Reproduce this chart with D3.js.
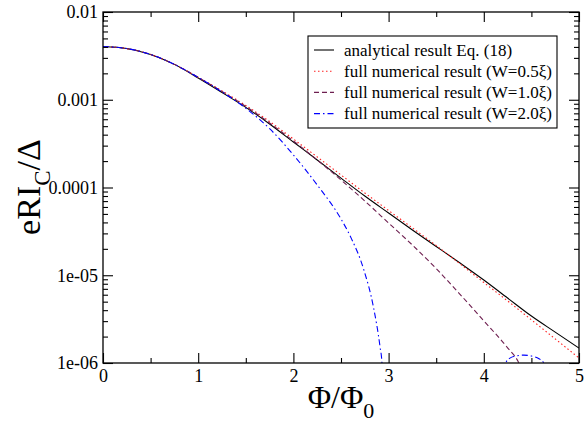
<!DOCTYPE html>
<html>
<head>
<meta charset="utf-8">
<script src="https://cdn.jsdelivr.net/npm/d3@7/dist/d3.min.js"></script>
<style>
  body { margin: 0; background: #fff; }
  text { font-family: "Liberation Serif", "Times New Roman", serif; fill: #000; }
</style>
</head>
<body>
<svg id="chart" width="586" height="424"></svg>
<script>
// Axis ticks
const phiTicks = [0, 1, 2, 3, 4, 5];
const phiMinorTicks = [0.5, 1.5, 2.5, 3.5, 4.5];
const currentTicks = [1e-2, 1e-3, 1e-4, 1e-5, 1e-6];
const currentTickLabels = ["0.01", "0.001", "0.0001", "1e-05", "1e-06"];

// Flux grid shared by the analytical curve and W = 0.5ξ
const phiGrid = [0, 0.25, 0.5, 0.75, 1, 1.25, 1.5, 1.75, 2, 2.25, 2.5,
                 2.75, 3, 3.25, 3.5, 3.75, 4, 4.25, 4.5, 4.75, 5];

// Analytical result, Eq. (18)
const analytical = [4.04e-3, 3.83e-3, 3.28e-3, 2.53e-3, 1.77e-3, 1.21e-3, 8.18e-4,
                    5.30e-4, 3.30e-4, 2.06e-4, 1.28e-4, 8.0e-5, 5.12e-5, 3.28e-5,
                    2.13e-5, 1.38e-5, 8.83e-6, 5.5e-6, 3.43e-6, 2.25e-6, 1.48e-6];

// Full numerical result, W = 0.5ξ
const numW05 = [4.04e-3, 3.83e-3, 3.28e-3, 2.53e-3, 1.80e-3, 1.26e-3, 8.60e-4,
                5.65e-4, 3.57e-4, 2.23e-4, 1.39e-4, 8.66e-5, 5.47e-5, 3.46e-5,
                2.18e-5, 1.35e-5, 8.27e-6, 5.10e-6, 3.10e-6, 1.88e-6, 1.14e-6];

// Full numerical result, W = 1.0ξ
const phiW10 = [0, 0.25, 0.5, 0.75, 1, 1.25, 1.5, 1.75, 2, 2.25, 2.5,
                2.75, 3, 3.25, 3.5, 3.75, 4, 4.25, 4.367, 4.45];
const numW10 = [4.04e-3, 3.83e-3, 3.28e-3, 2.53e-3, 1.80e-3, 1.24e-3, 8.40e-4,
                5.43e-4, 3.39e-4, 2.06e-4, 1.22e-4, 7.02e-5, 3.94e-5, 2.21e-5,
                1.19e-5, 6.07e-6, 3.02e-6, 1.49e-6, 1.01e-6, 6.0e-7];

// Full numerical result, W = 2.0ξ (|I_C| changes sign near Φ ≈ 2.93 Φ0)
const phiW20 = [0, 0.25, 0.5, 0.75, 1, 1.25, 1.5, 1.75, 2, 2.25, 2.5,
                2.6, 2.74, 2.84, 2.91, 2.93, 2.95];
const numW20 = [4.04e-3, 3.83e-3, 3.28e-3, 2.53e-3, 1.80e-3, 1.23e-3, 8.0e-4,
                4.68e-4, 2.35e-4, 1.07e-4, 4.38e-5,
                2.75e-5, 1.15e-5, 4.38e-6, 1.53e-6, 1.01e-6, 3.0e-7];
const phiW20Lobe = [4.20, 4.23, 4.27, 4.35, 4.42, 4.50, 4.58, 4.63, 4.66];
const numW20Lobe = [4.0e-7, 1.0e-6, 1.13e-6, 1.21e-6, 1.23e-6, 1.20e-6, 1.12e-6, 1.0e-6, 5.0e-7];

const legendLabels = [
  "analytical result Eq. (18)",
  "full numerical result (W=0.5\u03be)",
  "full numerical result (W=1.0\u03be)",
  "full numerical result (W=2.0\u03be)"
];

const styles = [
  { color: "#000000", dash: null, width: 1.1 },
  { color: "#ff2020", dash: "1.5,2.5", width: 1.1 },
  { color: "#6e1f50", dash: "5,3", width: 1.1 },
  { color: "#0000ff", dash: "6,3,1.5,3", width: 1.1 }
];

const svg = d3.select("#chart");
const plotLeft = 103, plotRight = 579, plotTop = 12, plotBottom = 363;

const x = d3.scaleLinear().domain([0, 5]).range([plotLeft, plotRight]);
const y = d3.scaleLog().domain([1e-6, 1e-2]).range([plotBottom, plotTop]);

svg.append("defs").append("clipPath").attr("id", "plotClip")
  .append("rect").attr("x", plotLeft).attr("y", plotTop)
  .attr("width", plotRight - plotLeft).attr("height", plotBottom - plotTop);

const line = d3.line()
  .x(d => x(d[0]))
  .y(d => y(d[1]))
  .curve(d3.curveMonotoneX);

const zip = (a, b) => a.map((v, i) => [v, b[i]]);
const seriesData = [
  [zip(phiGrid, analytical)],
  [zip(phiGrid, numW05)],
  [zip(phiW10, numW10)],
  [zip(phiW20, numW20), zip(phiW20Lobe, numW20Lobe)]
];

const curves = svg.append("g").attr("clip-path", "url(#plotClip)");
seriesData.forEach((segs, i) => {
  segs.forEach(seg => {
    curves.append("path")
      .datum(seg)
      .attr("d", line)
      .attr("fill", "none")
      .attr("stroke", styles[i].color)
      .attr("stroke-width", styles[i].width)
      .attr("stroke-dasharray", styles[i].dash);
  });
});

// Frame
svg.append("rect")
  .attr("x", plotLeft).attr("y", plotTop)
  .attr("width", plotRight - plotLeft).attr("height", plotBottom - plotTop)
  .attr("fill", "none").attr("stroke", "#000").attr("stroke-width", 1.3);

const major = 10, minor = 5;

// x axis (bottom, ticks inward) and mirrored top
const xBottom = svg.append("g").attr("transform", `translate(0,${plotBottom})`)
  .call(d3.axisBottom(x).tickValues(phiTicks).tickSize(-major).tickFormat(d3.format("d")));
const xBottomMinor = svg.append("g").attr("transform", `translate(0,${plotBottom})`)
  .call(d3.axisBottom(x).tickValues(phiMinorTicks).tickSize(-minor).tickFormat(""));
const xTop = svg.append("g").attr("transform", `translate(0,${plotTop})`)
  .call(d3.axisTop(x).tickValues(phiTicks).tickSize(-major).tickFormat(""));
const xTopMinor = svg.append("g").attr("transform", `translate(0,${plotTop})`)
  .call(d3.axisTop(x).tickValues(phiMinorTicks).tickSize(-minor).tickFormat(""));

// y axis (left, ticks inward) and mirrored right
const yMinorTicks = [];
for (let e = -6; e < -2; e++) {
  for (let m = 2; m <= 9; m++) yMinorTicks.push(m * Math.pow(10, e));
}
const yLeft = svg.append("g").attr("transform", `translate(${plotLeft},0)`)
  .call(d3.axisLeft(y).tickValues(currentTicks).tickSize(-major)
    .tickFormat((d, i) => currentTickLabels[i]));
const yLeftMinor = svg.append("g").attr("transform", `translate(${plotLeft},0)`)
  .call(d3.axisLeft(y).tickValues(yMinorTicks).tickSize(-minor).tickFormat(""));
const yRight = svg.append("g").attr("transform", `translate(${plotRight},0)`)
  .call(d3.axisRight(y).tickValues(currentTicks).tickSize(-major).tickFormat(""));
const yRightMinor = svg.append("g").attr("transform", `translate(${plotRight},0)`)
  .call(d3.axisRight(y).tickValues(yMinorTicks).tickSize(-minor).tickFormat(""));

[xBottom, xBottomMinor, xTop, xTopMinor, yLeft, yLeftMinor, yRight, yRightMinor].forEach(g => {
  g.select(".domain").remove();
  g.selectAll(".tick line").attr("stroke", "#000").attr("stroke-width", 1.1);
  g.selectAll("text")
    .style("font-family", '"Liberation Serif", "Times New Roman", serif')
    .style("font-size", "18px").attr("fill", "#000");
});
xBottom.selectAll("text").attr("y", 6).attr("dy", "0.71em");
yLeft.selectAll("text").attr("x", -5).attr("dy", "0.32em");

// Axis titles
const xTitle = svg.append("text")
  .attr("x", 341).attr("y", 408)
  .attr("text-anchor", "middle")
  .style("font-size", "32px");
xTitle.append("tspan").text("\u03a6/\u03a6");
xTitle.append("tspan").attr("dy", 10).style("font-size", "22px").text("0");

const yTitle = svg.append("text")
  .attr("transform", "translate(40,187) rotate(-90)")
  .attr("text-anchor", "middle")
  .style("font-size", "34px");
yTitle.append("tspan").text("eRI");
yTitle.append("tspan").attr("dy", 10).style("font-size", "23px").text("C");
yTitle.append("tspan").attr("dy", -10).text("/\u0394");

// Legend
const legend = svg.append("g");
legend.append("rect")
  .attr("x", 308).attr("y", 36).attr("width", 249).attr("height", 92)
  .attr("fill", "#fff").attr("stroke", "#000").attr("stroke-width", 1.1);
legendLabels.forEach((label, i) => {
  const cy = 50 + i * 21.2;
  legend.append("line")
    .attr("x1", 314).attr("x2", 334).attr("y1", cy).attr("y2", cy)
    .attr("stroke", styles[i].color)
    .attr("stroke-width", styles[i].width)
    .attr("stroke-dasharray", styles[i].dash);
  legend.append("text")
    .attr("x", 344).attr("y", cy + 5.5)
    .style("font-size", "17px")
    .text(label);
});
</script>
</body>
</html>
